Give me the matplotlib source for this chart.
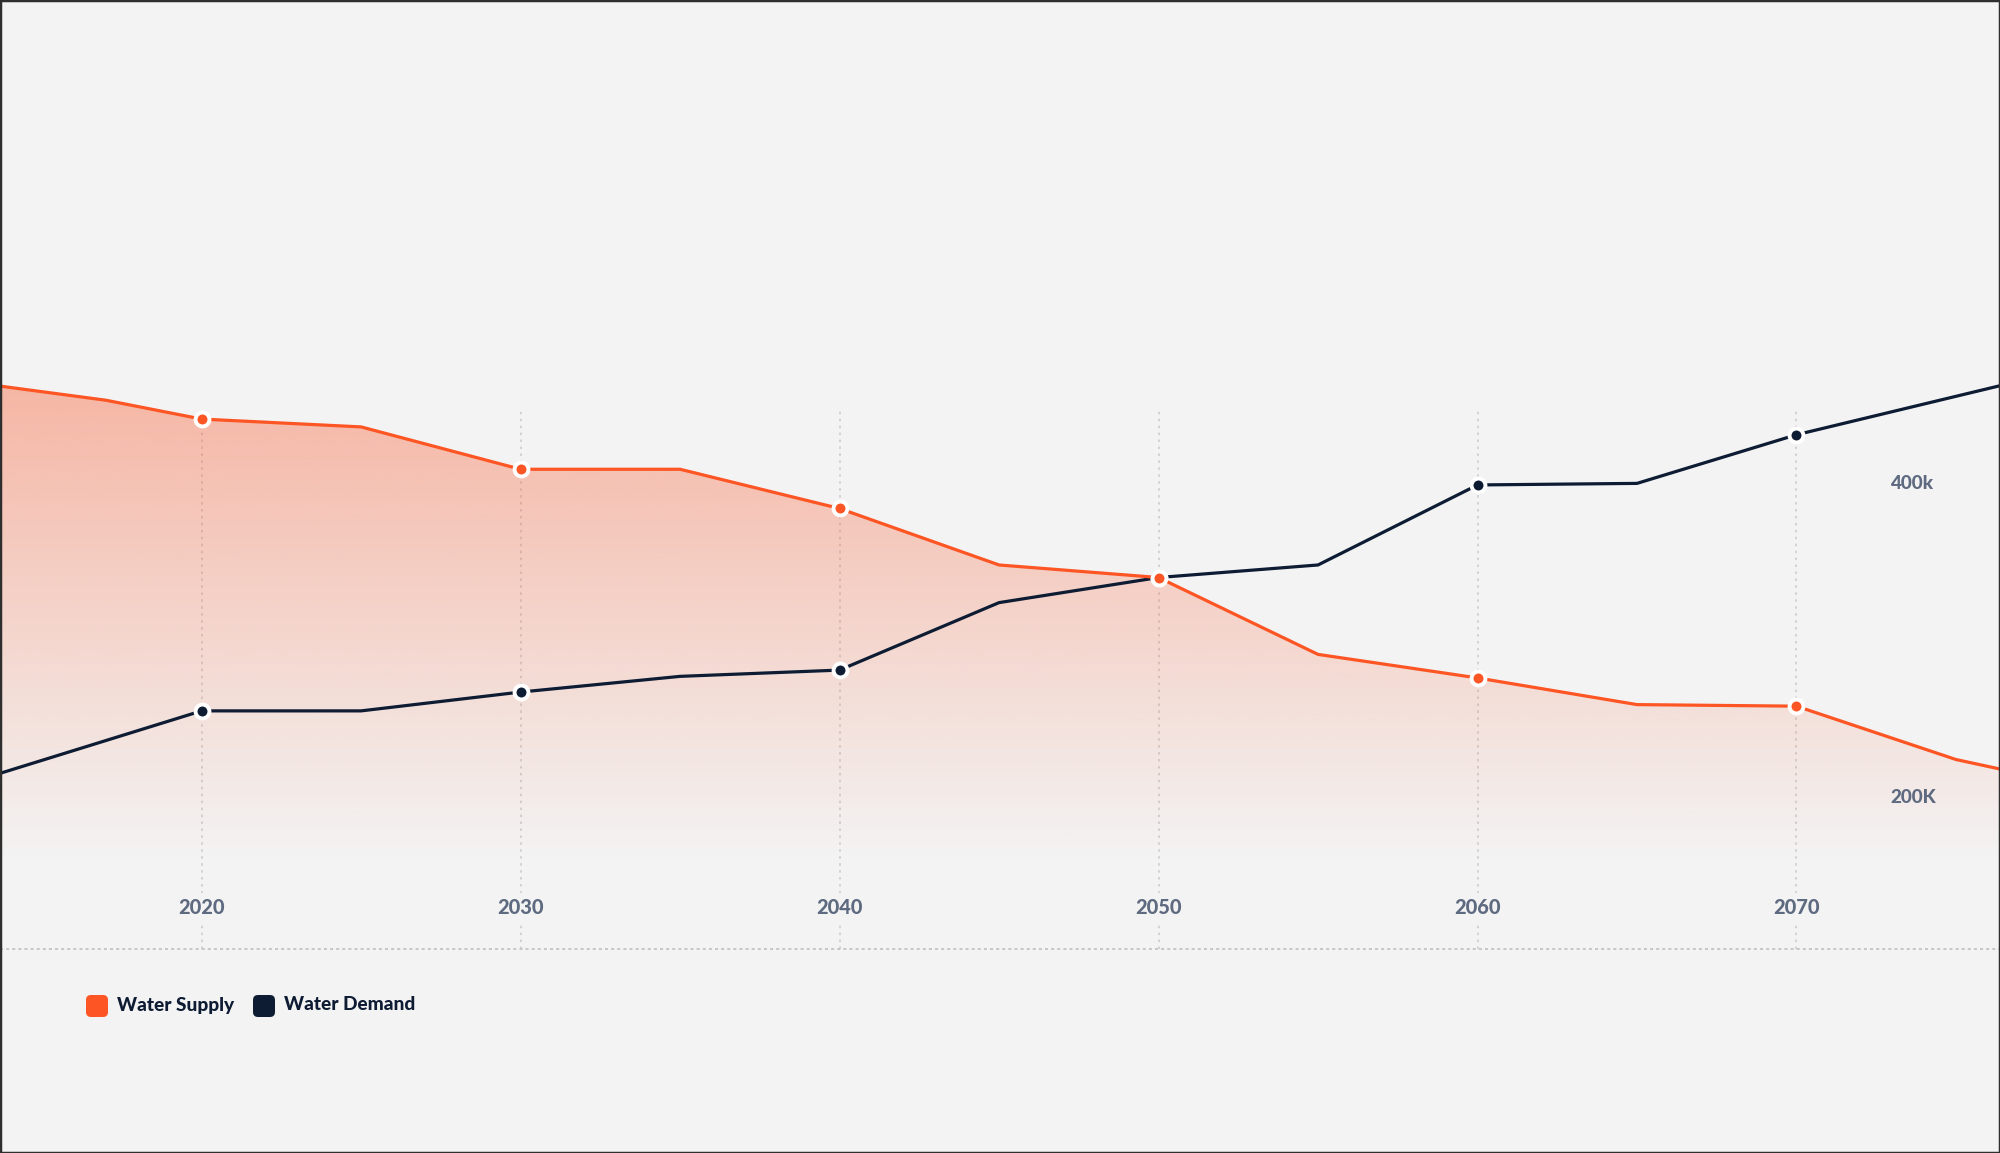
import numpy as np
import matplotlib
matplotlib.use('Agg')
import matplotlib.pyplot as plt
from matplotlib.patches import FancyBboxPatch, Rectangle, Polygon

plt.rcParams['font.family'] = ['Lato', 'DejaVu Sans']
plt.rcParams['lines.scale_dashes'] = False

# data (values in thousands)
supply_years = [2010, 2017, 2020, 2025, 2030, 2035, 2040, 2045, 2050, 2055, 2060, 2065, 2070, 2075, 2080]
supply = [472, 453, 441, 436, 409, 409, 384, 348, 340, 291, 276, 259, 258, 224, 202]
demand_years = [2010, 2020, 2025, 2030, 2035, 2040, 2045, 2050, 2055, 2060, 2065, 2070, 2080]
demand = [192, 255, 255, 267, 277, 281, 324, 340, 348, 399, 400, 431, 480]
decades = [2020, 2030, 2040, 2050, 2060, 2070]
y_labels = ['400k', '200K']
y_label_values = [400, 200]

BG = '#f3f3f3'
ORANGE = '#fd5523'
NAVY = '#0d1b33'
GREY_TXT = '#5e6a80'
WEIGHT = 'black'

fig = plt.figure(figsize=(20, 11.53), dpi=100, facecolor=BG)
ax = fig.add_axes([0, 0, 1, 1])
ax.set_facecolor(BG)
ax.axis('off')

base_v = 103.3
grid_top = 446.8

# vertical grid lines
for yr in decades:
    ax.plot([yr, yr], [base_v, grid_top], color='#cdcdcd', lw=1.2,
            dashes=(1.8, 3.2), zorder=1)

# baseline
ax.plot([2013.68, 2076.38], [base_v, base_v], color='#c4c4c4', lw=1.3,
        dashes=(2.2, 2.2), zorder=1)

# gradient fill under supply
n = 400
vv = np.linspace(base_v, 480, n)
alpha = np.clip(0.40 * (vv - 160) / (462 - 160), 0, 0.42)
img = np.zeros((n, 1, 4))
img[:, 0, :3] = matplotlib.colors.to_rgb('#fa5a2e')
img[:, 0, 3] = alpha
im = ax.imshow(img, extent=[2013.68, 2076.38, base_v, 480], origin='lower',
               aspect='auto', zorder=2, interpolation='bilinear')
poly_pts = list(zip(supply_years, supply)) + [(supply_years[-1], base_v), (supply_years[0], base_v)]
poly = Polygon(poly_pts, closed=True, transform=ax.transData, facecolor='none', edgecolor='none')
ax.add_patch(poly)
im.set_clip_path(poly)
ax.set_xlim(2013.68, 2076.38)
ax.set_ylim(-26.8, 708.1)

# lines
dm = [i for i, y in enumerate(demand_years) if y in decades]
sm = [i for i, y in enumerate(supply_years) if y in decades]
ax.plot(demand_years, demand, color=NAVY, lw=2.3, zorder=4,
        marker='o', markevery=dm, markersize=10, markerfacecolor=NAVY,
        markeredgecolor='white', markeredgewidth=2.8, solid_joinstyle='miter')
ax.plot(supply_years, supply, color=ORANGE, lw=2.3, zorder=5,
        marker='o', markevery=sm, markersize=10, markerfacecolor=ORANGE,
        markeredgecolor='white', markeredgewidth=2.8, solid_joinstyle='miter')

# x tick labels
for yr in decades:
    ax.text(yr, 129.4, str(yr), ha='center', va='center', fontsize=14.4,
            fontweight=WEIGHT, color=GREY_TXT, zorder=3,
            bbox=dict(boxstyle='square,pad=0.25', facecolor=BG, edgecolor='none'))

# y labels
for lab, v in zip(y_labels, y_label_values):
    ax.text(0.945, v, lab, transform=ax.get_yaxis_transform(), ha='left', va='center',
            fontsize=13.6, fontweight=WEIGHT, color=GREY_TXT, zorder=3)

# legend
items = [('Water Supply', ORANGE, 0.86, 1.17), ('Water Demand', NAVY, 2.53, 2.84)]
for label, col, sx, tx in items:
    box = FancyBboxPatch((sx + 0.03, 1.36 + 0.03), 0.16, 0.16,
                         boxstyle='round,pad=0.03,rounding_size=0.05',
                         transform=fig.dpi_scale_trans, facecolor=col, edgecolor='none')
    fig.patches.append(box)
    fig.text(tx / 20, 1.48 / 11.53, label, ha='left', va='center', fontsize=13.7,
             fontweight=WEIGHT, color=NAVY)

# frame
fig.patches.append(Rectangle((0, 0), 1, 1, transform=fig.transFigure, fill=False,
                             edgecolor='#2e2e2e', lw=2.5))

fig.savefig('out.png', dpi=100, facecolor=BG)
